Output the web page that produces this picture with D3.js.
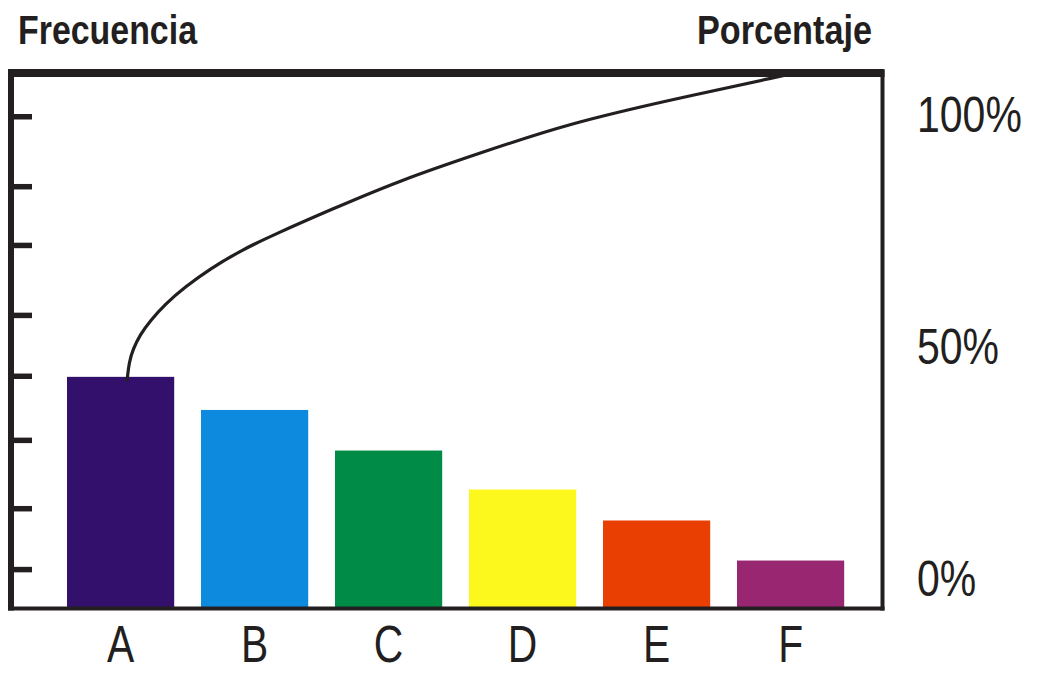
<!DOCTYPE html>
<html>
<head>
<meta charset="utf-8">
<script src="https://cdn.jsdelivr.net/npm/d3@7/dist/d3.min.js"></script>
<style>
  html, body { margin: 0; padding: 0; background: #ffffff; }
  svg { display: block; }
</style>
</head>
<body>
<svg id="chart" width="1038" height="673"></svg>
<script>
// ---- data ----
const categories = ["A", "B", "C", "D", "E", "F"];
const frequencies = [43.1, 36.9, 29.3, 22.0, 16.2, 8.7];
const barColors = ["#33106b", "#0d89dd", "#008c47", "#fcf81e", "#e93f03", "#992671"];
const freqTicks = [7.1, 18.5, 31.3, 43.3, 54.7, 67.8, 78.8, 91.9];
const pctTicks = [0, 50, 100];
// cumulative curve: position in category steps (0 = A, 5 = F), percentage
const curvePos = [0.049, 0.063, 0.093, 0.145, 0.220, 0.332, 0.481, 0.668, 0.892, 1.153, 1.563, 2.086, 2.683, 3.354, 4.101, 5.0];
const curvePct = [42.5, 46.3, 49.1, 52.2, 55.2, 58.8, 62.5, 66.4, 70.3, 73.9, 79.1, 85.5, 91.4, 97.8, 102.8, 108.4];
const titleLeft = "Frecuencia";
const titleRight = "Porcentaje";

// ---- layout ----
const ink = "#231f20";
const font = "'Liberation Sans', Arial, sans-serif";
const svg = d3.select("#chart");
const frame = { left: 11, right: 882.5, top: 73, bottom: 608.5 };

const x = d3.scaleBand().domain(categories).range([53.6, 857.6]).paddingInner(0.2).paddingOuter(0.1);
const yFreq = d3.scaleLinear().domain([0, 100]).range([607, 73]);
const yPct = d3.scaleLinear().domain([0, 100]).range([577, 113]);
const xCurve = d3.scaleLinear().domain([0, categories.length - 1])
  .range([x(categories[0]) + x.bandwidth() / 2, x(categories[categories.length - 1]) + x.bandwidth() / 2]);

// bars
svg.append("g").selectAll("rect").data(categories).join("rect")
  .attr("x", d => x(d))
  .attr("width", x.bandwidth())
  .attr("y", (d, i) => yFreq(frequencies[i]))
  .attr("height", (d, i) => yFreq(0) - yFreq(frequencies[i]))
  .attr("fill", (d, i) => barColors[i]);

// left inward ticks
const leftAxis = svg.append("g").attr("transform", `translate(${frame.left},0)`)
  .call(d3.axisRight(yFreq).tickValues(freqTicks).tickSize(21).tickFormat(""));
leftAxis.select(".domain").remove();
leftAxis.selectAll(".tick line").attr("stroke", ink).attr("stroke-width", 5.5);

// cumulative curve
const curveData = curvePos.map((p, i) => [p, curvePct[i]]);
svg.append("path")
  .datum(curveData)
  .attr("fill", "none")
  .attr("stroke", ink)
  .attr("stroke-width", 3.2)
  .attr("stroke-linecap", "round")
  .attr("d", d3.line().x(d => xCurve(d[0])).y(d => yPct(d[1])).curve(d3.curveBasis));

// frame
const fr = svg.append("g").attr("stroke", ink).attr("fill", "none");
fr.append("line").attr("x1", frame.right).attr("x2", frame.right).attr("y1", 70).attr("y2", 610.5).attr("stroke-width", 4);
fr.append("line").attr("x1", 8).attr("x2", 884.5).attr("y1", frame.bottom).attr("y2", frame.bottom).attr("stroke-width", 4);
fr.append("line").attr("x1", frame.left).attr("x2", frame.left).attr("y1", 70).attr("y2", 610.5).attr("stroke-width", 6);
fr.append("line").attr("x1", 8).attr("x2", 884.5).attr("y1", frame.top).attr("y2", frame.top).attr("stroke-width", 8);

// bottom category labels
const bottomAxis = svg.append("g").attr("transform", `translate(0,${frame.bottom})`)
  .call(d3.axisBottom(x).tickSize(0).tickPadding(0));
bottomAxis.select(".domain").remove();
bottomAxis.selectAll(".tick text")
  .attr("y", 53.5).attr("dy", null)
  .attr("transform", "scale(0.8,1)")
  .attr("fill", ink)
  .style("font-family", font)
  .style("font-size", "51px");

// right percentage labels
const rightAxis = svg.append("g").attr("transform", `translate(917,0)`)
  .call(d3.axisRight(yPct).tickValues(pctTicks).tickSize(0).tickPadding(0).tickFormat(d => d + "%"));
rightAxis.select(".domain").remove();
rightAxis.selectAll(".tick text")
  .attr("x", 0).attr("dy", "0.36em")
  .attr("transform", "scale(0.82,1)")
  .attr("fill", ink)
  .style("font-family", font)
  .style("font-size", "50px");

// titles
svg.append("text").text(titleLeft)
  .attr("x", 18).attr("y", 43.5)
  .attr("fill", ink)
  .attr("textLength", 179).attr("lengthAdjust", "spacingAndGlyphs")
  .style("font-family", font)
  .style("font-weight", "bold").style("font-size", "40px");
svg.append("text").text(titleRight)
  .attr("x", 697).attr("y", 43.5)
  .attr("fill", ink)
  .attr("textLength", 175).attr("lengthAdjust", "spacingAndGlyphs")
  .style("font-family", font)
  .style("font-weight", "bold").style("font-size", "40px");
</script>
</body>
</html>
